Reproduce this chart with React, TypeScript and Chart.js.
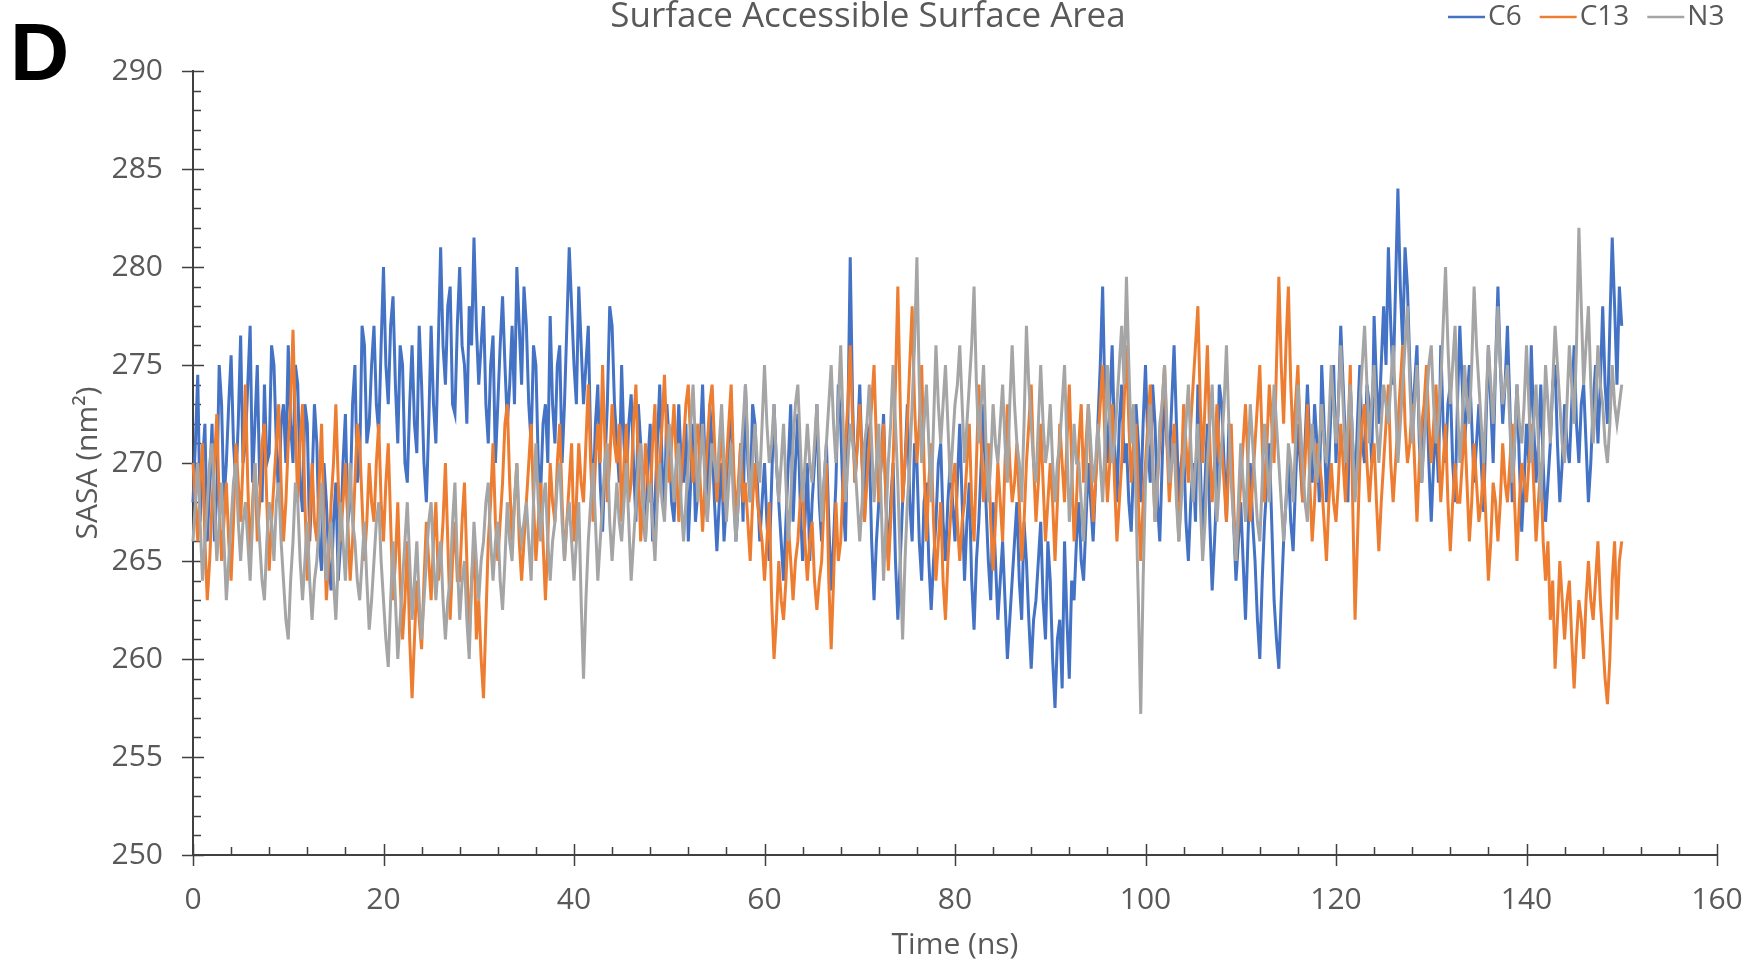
import React, { useEffect, useRef } from "react";
import { Chart, registerables } from "chart.js";

Chart.register(...registerables);

const TITLE = "Surface Accessible Surface Area";
const X_TITLE = "Time (ns)";
const Y_TITLE = "SASA (nm²)";
const PANEL_LABEL = "D";
const SERIES_NAMES = ["C6", "C13", "N3"];
const SERIES_COLORS = ["#4472C4", "#ED7D31", "#A5A5A5"];
const X_MIN = 0;
const X_MAX = 160;
const X_STEP = 20;
const X_MINOR = 4;
const Y_MIN = 250;
const Y_MAX = 290;
const Y_STEP = 5;
const Y_MINOR = 1;
const SAMPLE_NS = 0.25;

// SASA (nm²) sampled every 0.25 ns, 0 .. 150 ns (one row = 5 ns)
const C6 = [
  268, 271, 274.5, 267, 270, 272, 266, 269, 272, 266, 268.5, 275, 273, 268, 270, 273, 275.5, 271, 269, 272,
  276.5, 270, 271, 274, 277, 269, 272, 275, 269, 268, 274, 270, 270.5, 276, 275, 271, 268, 272, 273, 270,
  276, 272, 270, 275, 274, 269, 267.5, 273, 272, 266, 269, 273, 271, 266, 264.5, 270, 268, 265, 263.5, 267,
  269, 264, 266, 270, 272.5, 267, 268, 273, 275, 269, 270, 277, 276, 271, 272, 275, 277, 273, 271.5, 276,
  280, 275, 273, 277, 278.5, 274, 271, 276, 275, 270, 269, 273, 276, 272, 270.5, 277, 274, 270, 268, 272,
  277, 273, 271, 276, 281, 276, 274, 278, 279, 273, 272.5, 277, 280, 276, 275, 272, 278, 276, 281.5, 277,
  274, 276, 278, 273, 271, 275, 276.5, 270, 273, 276, 278.5, 275, 272, 274, 277, 273, 280, 277, 274, 279,
  277, 273, 271, 276, 275, 270, 268.5, 272, 273, 270, 277.5, 273, 271, 275, 276, 270, 273, 277, 281, 278,
  275, 273, 279, 276, 273, 275, 277, 271, 268, 272, 274, 269, 266.5, 270, 273, 278, 277, 273, 271, 269,
  275, 271, 269, 272, 273.5, 270, 267, 273, 271, 268, 266, 270, 272, 266, 268, 271, 274, 270, 267.5, 273,
  271, 268, 267, 270, 273, 270, 269, 272, 266, 269, 272, 267, 268.5, 271, 274, 270, 267, 273, 271, 268,
  265.5, 268, 270, 266, 268, 271, 273, 269, 266, 268, 271, 267, 274, 270, 268, 273, 272, 269, 266, 268,
  270, 267, 265, 269, 273, 270, 268, 266, 264, 267, 270, 273, 267, 270, 272.5, 268, 265, 267, 270, 265,
  268, 270, 273, 268, 266, 269, 271, 267, 263.5, 266, 269, 274, 272, 268, 266, 272, 280.5, 273, 269, 271,
  274, 270, 267, 272, 271, 266, 263, 266, 268, 270, 272.5, 268, 265, 268, 270, 265, 262, 265, 268, 270,
  273, 268, 266, 271, 270, 266, 264, 268, 269, 265, 262.5, 265, 267, 270, 271, 267, 265, 268, 270, 268,
  266, 269, 272, 268, 264, 267, 269, 264, 261.5, 265, 267, 270, 273, 268, 265, 263, 268, 265, 262, 264,
  266, 263, 260, 262, 264, 266, 268, 264, 262, 267, 265, 262, 259.5, 262, 263, 265, 267, 263, 261, 266,
  264, 260, 257.5, 261, 262, 258.5, 266, 262, 259, 264, 263, 266, 268, 265, 264, 267, 270, 268, 266, 269,
  272, 275, 279, 273, 270, 273, 276, 271, 268, 272, 274, 270, 271, 268, 266.5, 270, 273, 271, 268, 272,
  275, 271, 269, 274, 272, 268, 266, 270, 274, 271, 270, 273, 276, 272, 268, 270, 271, 267, 265, 268,
  270, 267, 274, 270, 266, 269, 272, 267, 263.5, 266, 269, 274, 273, 270, 267, 272, 271, 267, 264, 266,
  268, 265, 262, 266, 270, 267, 265, 262, 260, 264, 267, 269, 271, 267, 263, 261, 259.5, 263, 266, 268,
  270, 267, 265.5, 269, 272, 270, 268, 271, 274, 271, 269, 273, 271, 268, 275, 272, 268, 270, 273, 275,
  270, 273, 277, 274, 271, 268, 274, 271, 268.5, 272, 275, 271, 270, 274, 273, 270, 277.5, 274, 272, 275,
  278, 275, 281, 277, 274, 279, 284, 279, 276, 281, 279, 275, 272, 274, 276, 271, 269, 272, 274, 270,
  267, 270, 272, 269, 276, 272, 270, 273, 274, 270, 268, 273, 277, 274, 271, 273, 275, 272, 269, 271,
  273, 270, 267.5, 272, 276, 273, 270, 275, 279, 275, 272, 274, 277, 273, 268, 271, 274, 270, 266.5, 269,
  272, 270, 276, 272, 269, 271, 274, 270, 267, 269, 271, 274, 275, 271, 268, 270, 273, 271, 270, 273,
  276, 272, 270, 273, 274, 271, 268, 270, 273, 275, 271, 274, 278, 274, 272, 277, 281.5, 278, 274, 279,
  277,
];

const C13 = [
  270, 268, 266, 269, 271, 266, 263, 265, 268, 270, 272.5, 268, 265, 267, 269, 266, 264, 267, 271, 269,
  267, 270, 274, 269, 265, 268, 270, 266, 268, 271, 272, 268, 264.5, 267, 269, 271, 273, 269, 266, 268,
  271, 273, 276.8, 272, 268, 271, 273, 268, 264, 267, 270, 267, 266, 269, 272, 267, 263, 265, 268, 270,
  273, 269, 266, 268, 270, 267, 264, 266, 269, 272, 271, 268, 265, 267, 270, 268, 267, 270, 272, 268,
  266, 269, 271, 267, 263, 265, 268, 264, 261, 263, 266, 261, 258, 261, 264, 262, 260.5, 264, 267, 265,
  263, 266, 268, 264, 265, 267, 270, 266, 262, 265, 267, 264, 264, 267, 269, 265, 261, 264, 266, 261,
  263, 260, 258, 262, 266, 268, 271, 267, 265, 267, 269, 272, 273, 269, 266, 268, 270, 266, 264, 266,
  268, 270, 272, 268, 265, 267, 269, 266, 263, 266, 270, 268, 267, 270, 272, 268, 265, 267, 269, 271,
  266, 268, 271, 269, 268, 271, 274, 270, 267, 270, 272, 270, 275, 271, 268, 270, 273, 271, 270, 272,
  267, 270, 272, 268, 269, 272, 274, 270, 266, 268, 271, 269, 268, 271, 273, 268, 270, 272, 274.5, 271,
  269, 271, 273, 270, 267, 269, 271, 273, 274, 271, 269, 271, 272, 269, 266.5, 269, 271, 273, 274, 271,
  268, 270, 272, 268, 270, 272, 274, 270, 267, 269, 271, 268, 269, 267, 265, 268, 270, 268, 267, 266,
  264, 266, 268, 263, 260, 262, 265, 263, 262, 264, 267, 265, 263, 265, 266, 268, 269, 266, 264, 266,
  267, 264, 262.5, 264, 265, 268, 270, 264, 260.5, 264, 268, 265, 266, 269, 271, 273, 276, 272, 269, 271,
  273, 270, 267, 269, 271, 273, 275, 271, 268, 270, 272, 268, 264.5, 267, 270, 274, 279, 273, 268, 270,
  272, 275, 278, 273, 270, 272, 275, 270, 266, 269, 271, 267, 264, 266, 268, 264, 262, 265, 267, 269,
  270, 267, 265, 267, 268, 270, 272, 268, 266, 270, 274, 271, 268, 270, 271, 267, 264.5, 267, 270, 268,
  266, 270, 273, 270, 268, 269, 271, 268, 265, 267, 270, 272, 274, 270, 267, 269, 272, 269, 266, 268,
  270, 268, 265, 268, 272, 270, 268, 271, 274, 270, 266, 268, 271, 273, 269, 271, 273, 270, 267, 269,
  271, 273, 275, 271, 268, 270, 273, 269, 266, 268, 270, 273, 276, 272, 269, 271, 272, 268, 265, 268,
  270, 272, 274, 270, 267, 269, 271, 273, 275, 271, 268, 270, 272, 269, 266, 269, 273, 271, 269, 272,
  274, 276, 278, 273, 270, 273, 276, 271, 268, 270, 273, 270, 271, 269, 267, 270, 272, 268, 265, 267,
  269, 271, 273, 270, 267, 269, 271, 273, 275, 271, 268, 271, 274, 272, 270, 275, 279.5, 275, 272, 276,
  279, 274, 271, 273, 275, 271, 268, 270, 273, 269, 266, 268, 271, 270, 269, 267, 265, 268, 270, 268,
  267, 269, 272, 270, 268, 271, 275, 268, 262, 266, 270, 272, 273, 270, 268, 270, 271, 268, 265.5, 268,
  270, 272, 274, 270, 268, 270, 272, 274, 276, 272, 270, 271, 273, 270, 267, 270, 272, 273, 275, 272,
  270, 272, 274, 271, 268, 270, 272, 268, 265.5, 268, 270, 268, 268, 270, 272, 269, 266, 268, 271, 269,
  267, 268, 270, 267, 264, 266, 269, 268, 266, 268, 271, 269, 268, 270, 272, 268, 265, 268, 270, 269,
  268, 270, 272, 269, 266, 268, 270, 266, 264, 266, 262, 264, 259.5, 262, 265, 263, 261, 263, 264, 261,
  258.5, 261, 263, 262, 260, 263, 265, 263, 262, 264, 266, 263, 261, 259, 257.7, 260, 264, 266, 262, 265,
  266,
];

const N3 = [
  266, 268, 270, 267, 264, 266, 268, 270, 271, 268, 265, 267, 269, 266, 263, 265, 267, 269, 270, 267,
  265, 267, 268, 266, 264, 267, 270, 268, 266, 264, 263, 266, 268, 267, 265, 268, 269, 266, 264, 262,
  261, 264, 266, 269, 268, 265, 263, 265, 267, 264, 262, 264, 265, 267, 269, 266, 264, 266, 267, 264,
  262, 265, 268, 266, 264, 267, 270, 267, 266, 264, 263, 265, 267, 264, 261.5, 263, 265, 267, 268, 265,
  263, 261, 259.6, 263, 266, 263, 260, 262, 264, 266, 268, 265, 262, 264, 266, 263, 261, 263, 265, 267,
  268, 265, 263, 265, 266, 263, 261, 263, 264, 267, 269, 265, 262, 264, 265, 262, 260, 264, 267, 265,
  263, 265, 266, 268, 269, 266, 264, 266, 267, 264, 262.5, 265, 268, 266, 265, 268, 270, 267, 266, 267,
  268, 266, 264, 268, 271, 268, 266, 268, 269, 266, 264, 266, 267, 269, 270, 267, 265, 267, 268, 266,
  264, 266, 268, 263, 259, 263, 266, 268, 270, 267, 264, 266, 268, 270, 271, 267, 265, 267, 269, 267,
  266, 268, 270, 267, 264, 266, 268, 270, 271, 268, 266, 268, 269, 267, 265, 268, 270, 268, 267, 270,
  272, 270, 268, 270, 271, 268, 266, 268, 270, 272, 274, 271, 268, 270, 272, 269, 267, 269, 271, 270,
  269, 271, 273, 270, 267, 269, 271, 268, 266, 268, 270, 272, 274, 271, 268, 270, 272, 270, 269, 272,
  275, 272, 270, 271, 273, 270, 268, 270, 272, 269, 266, 268, 271, 273, 274, 271, 268, 270, 272, 270,
  269, 271, 273, 270, 267, 269, 271, 273, 275, 272, 270, 273, 276, 272, 268, 270, 272, 271, 270, 268,
  266, 268, 271, 272, 274, 271, 268, 270, 272, 268, 264, 267, 270, 272, 275, 272, 269, 265, 261, 265,
  268, 270, 273, 276, 280.5, 274, 270, 272, 274, 271, 268, 272, 276, 273, 271, 273, 275, 272, 269, 271,
  273, 274, 276, 273, 270, 272, 274, 276, 279, 274, 271, 273, 275, 271, 268, 270, 273, 271, 270, 272,
  274, 271, 269, 273, 276, 273, 271, 270, 268, 272, 277, 274, 272, 270, 269, 272, 275, 272, 270, 271,
  273, 270, 268, 270, 271, 273, 275, 271, 267, 269, 272, 270, 270, 268, 266, 269, 273, 271, 269, 270,
  272, 270, 268, 271, 275, 272, 270, 271, 273, 275, 277, 274, 279.5, 275, 271, 273, 268, 263, 257.2, 264,
  269, 271, 273, 270, 267, 269, 272, 273, 275, 272, 269, 270, 271, 268, 266, 268, 270, 272, 274, 271,
  268, 270, 272, 268, 265, 267, 270, 272, 274, 270, 267, 269, 271, 273, 276, 272, 269, 267, 265, 268,
  271, 269, 267, 270, 273, 271, 269, 267, 266, 269, 272, 270, 268, 271, 274, 272, 270, 268, 266, 268,
  271, 270, 268, 271, 274, 272, 270, 268, 267, 270, 272, 270, 269, 271, 273, 271, 270, 272, 275, 273,
  271, 273, 276, 273, 270, 272, 274, 271, 268, 270, 273, 275, 277, 274, 271, 273, 275, 272, 270, 272,
  274, 273, 272, 274, 276, 273, 270, 272, 274, 276, 278, 274, 271, 273, 275, 272, 269, 271, 273, 275,
  276, 273, 271, 272, 274, 277, 280, 276, 273, 275, 277, 273, 270, 272, 275, 273, 272, 275, 279, 276,
  274, 272, 270, 273, 276, 274, 272, 275, 278, 275, 273, 274, 275, 272, 269, 271, 274, 272, 271, 273,
  276, 273, 270, 272, 274, 271, 268, 271, 275, 273, 271, 274, 277, 275, 273, 271, 270, 273, 276, 274,
  272, 276, 282, 278, 274, 276, 278, 274, 271, 273, 276, 274, 273, 271, 270, 272, 275, 273, 272, 273,
  274,
];

const SERIES_VALUES = [C6, C13, N3];

const FONT = "'Open Sans', 'Noto Sans', sans-serif";
const TEXT_COLOR = "#595959";
const AXIS_COLOR = "#404040";

const axesPlugin = {
  id: "excelAxes",
  beforeDatasetsDraw(chart: any) {
    const { ctx, chartArea: a, scales } = chart;
    const xs = scales.x;
    const ys = scales.y;
    ctx.save();
    ctx.strokeStyle = AXIS_COLOR;
    ctx.lineWidth = 2;
    ctx.beginPath();
    ctx.moveTo(a.left, a.top - 1);
    ctx.lineTo(a.left, a.bottom + 1);
    ctx.moveTo(a.left - 1, a.bottom);
    ctx.lineTo(a.right + 1, a.bottom);
    ctx.stroke();
    ctx.lineWidth = 1.5;
    ctx.beginPath();
    for (let v = Y_MIN; v <= Y_MAX + 1e-9; v += Y_MINOR) {
      const py = Math.round(ys.getPixelForValue(v)) + 0.5;
      if (Math.abs(v % Y_STEP) < 1e-9) {
        ctx.moveTo(a.left - 11, py);
        ctx.lineTo(a.left + 11, py);
      } else {
        ctx.moveTo(a.left, py);
        ctx.lineTo(a.left + 8, py);
      }
    }
    for (let v = X_MIN; v <= X_MAX + 1e-9; v += X_MINOR) {
      const px = Math.round(xs.getPixelForValue(v)) + 0.5;
      if (Math.abs(v % X_STEP) < 1e-9) {
        ctx.moveTo(px, a.bottom - 11);
        ctx.lineTo(px, a.bottom + 11);
      } else {
        ctx.moveTo(px, a.bottom);
        ctx.lineTo(px, a.bottom - 8);
      }
    }
    ctx.stroke();
    ctx.restore();
  },
};

const legendPlugin = {
  id: "topRightLegend",
  afterDraw(chart: any) {
    const { ctx } = chart;
    ctx.save();
    ctx.font = `28px ${FONT}`;
    ctx.textBaseline = "middle";
    ctx.textAlign = "left";
    const y = 17;
    let x = 1448;
    chart.data.datasets.forEach((ds: any) => {
      ctx.strokeStyle = ds.borderColor;
      ctx.lineWidth = 2.5;
      ctx.beginPath();
      ctx.moveTo(x, y);
      ctx.lineTo(x + 37, y);
      ctx.stroke();
      x += 40;
      ctx.fillStyle = TEXT_COLOR;
      ctx.fillText(ds.label, x, y);
      x += ctx.measureText(ds.label).width + 18;
    });
    // panel label
    ctx.fillStyle = "#000000";
    ctx.font = `bold 82px 'Liberation Sans', ${FONT}`;
    ctx.textBaseline = "alphabetic";
    ctx.fillText(PANEL_LABEL, 10, 80);
    ctx.restore();
  },
};

export default function App() {
  const ref = useRef<HTMLCanvasElement>(null);
  useEffect(() => {
    document.body.style.margin = "0";
    const canvas = ref.current;
    if (!canvas) return;
    const datasets = SERIES_VALUES.map((vals, k) => ({
      label: SERIES_NAMES[k],
      data: vals.map((v, i) => ({ x: i * SAMPLE_NS, y: v })),
      borderColor: SERIES_COLORS[k],
      backgroundColor: SERIES_COLORS[k],
      borderWidth: 3,
      pointRadius: 0,
      tension: 0,
      fill: false,
      order: 3 - k,
      clip: 4,
    }));
    const chart = new Chart(canvas, {
      type: "line",
      data: { datasets },
      options: {
        responsive: false,
        animation: false,
        devicePixelRatio: 1,
        layout: { padding: { left: 0, right: 12, top: 0, bottom: 0 }, autoPadding: false },
        plugins: {
          legend: { display: false },
          tooltip: { enabled: false },
          title: {
            display: true,
            text: TITLE,
            color: TEXT_COLOR,
            font: { family: FONT, size: 35, weight: "normal", lineHeight: 1.0 },
            padding: { top: 0, bottom: 36 },
          },
        },
        scales: {
          x: {
            type: "linear",
            min: X_MIN,
            max: X_MAX,
            grid: { display: false },
            border: { display: false },
            ticks: {
              stepSize: X_STEP,
              color: TEXT_COLOR,
              font: { family: FONT, size: 30 },
              padding: 19,
              maxRotation: 0,
              autoSkip: false,
            },
            title: {
              display: true,
              text: X_TITLE,
              color: TEXT_COLOR,
              font: { family: FONT, size: 30 },
              padding: { top: 0, bottom: 0 },
            },
            afterFit: (s: any) => {
              s.height = 108;
              s.paddingLeft = 0;
              s.paddingRight = 31;
            },
          },
          y: {
            type: "linear",
            min: Y_MIN,
            max: Y_MAX,
            grid: { display: false },
            border: { display: false },
            ticks: {
              stepSize: Y_STEP,
              color: TEXT_COLOR,
              font: { family: FONT, size: 30 },
              padding: 22,
            },
            title: {
              display: true,
              text: Y_TITLE,
              color: TEXT_COLOR,
              font: { family: FONT, size: 30 },
              padding: { top: 70, bottom: 0 },
            },
            afterFit: (s: any) => {
              s.width = 193;
            },
          },
        },
      },
      plugins: [axesPlugin, legendPlugin],
    } as any);
    return () => chart.destroy();
  }, []);
  return <canvas ref={ref} width={1748} height={963} style={{ display: "block" }} />;
}
